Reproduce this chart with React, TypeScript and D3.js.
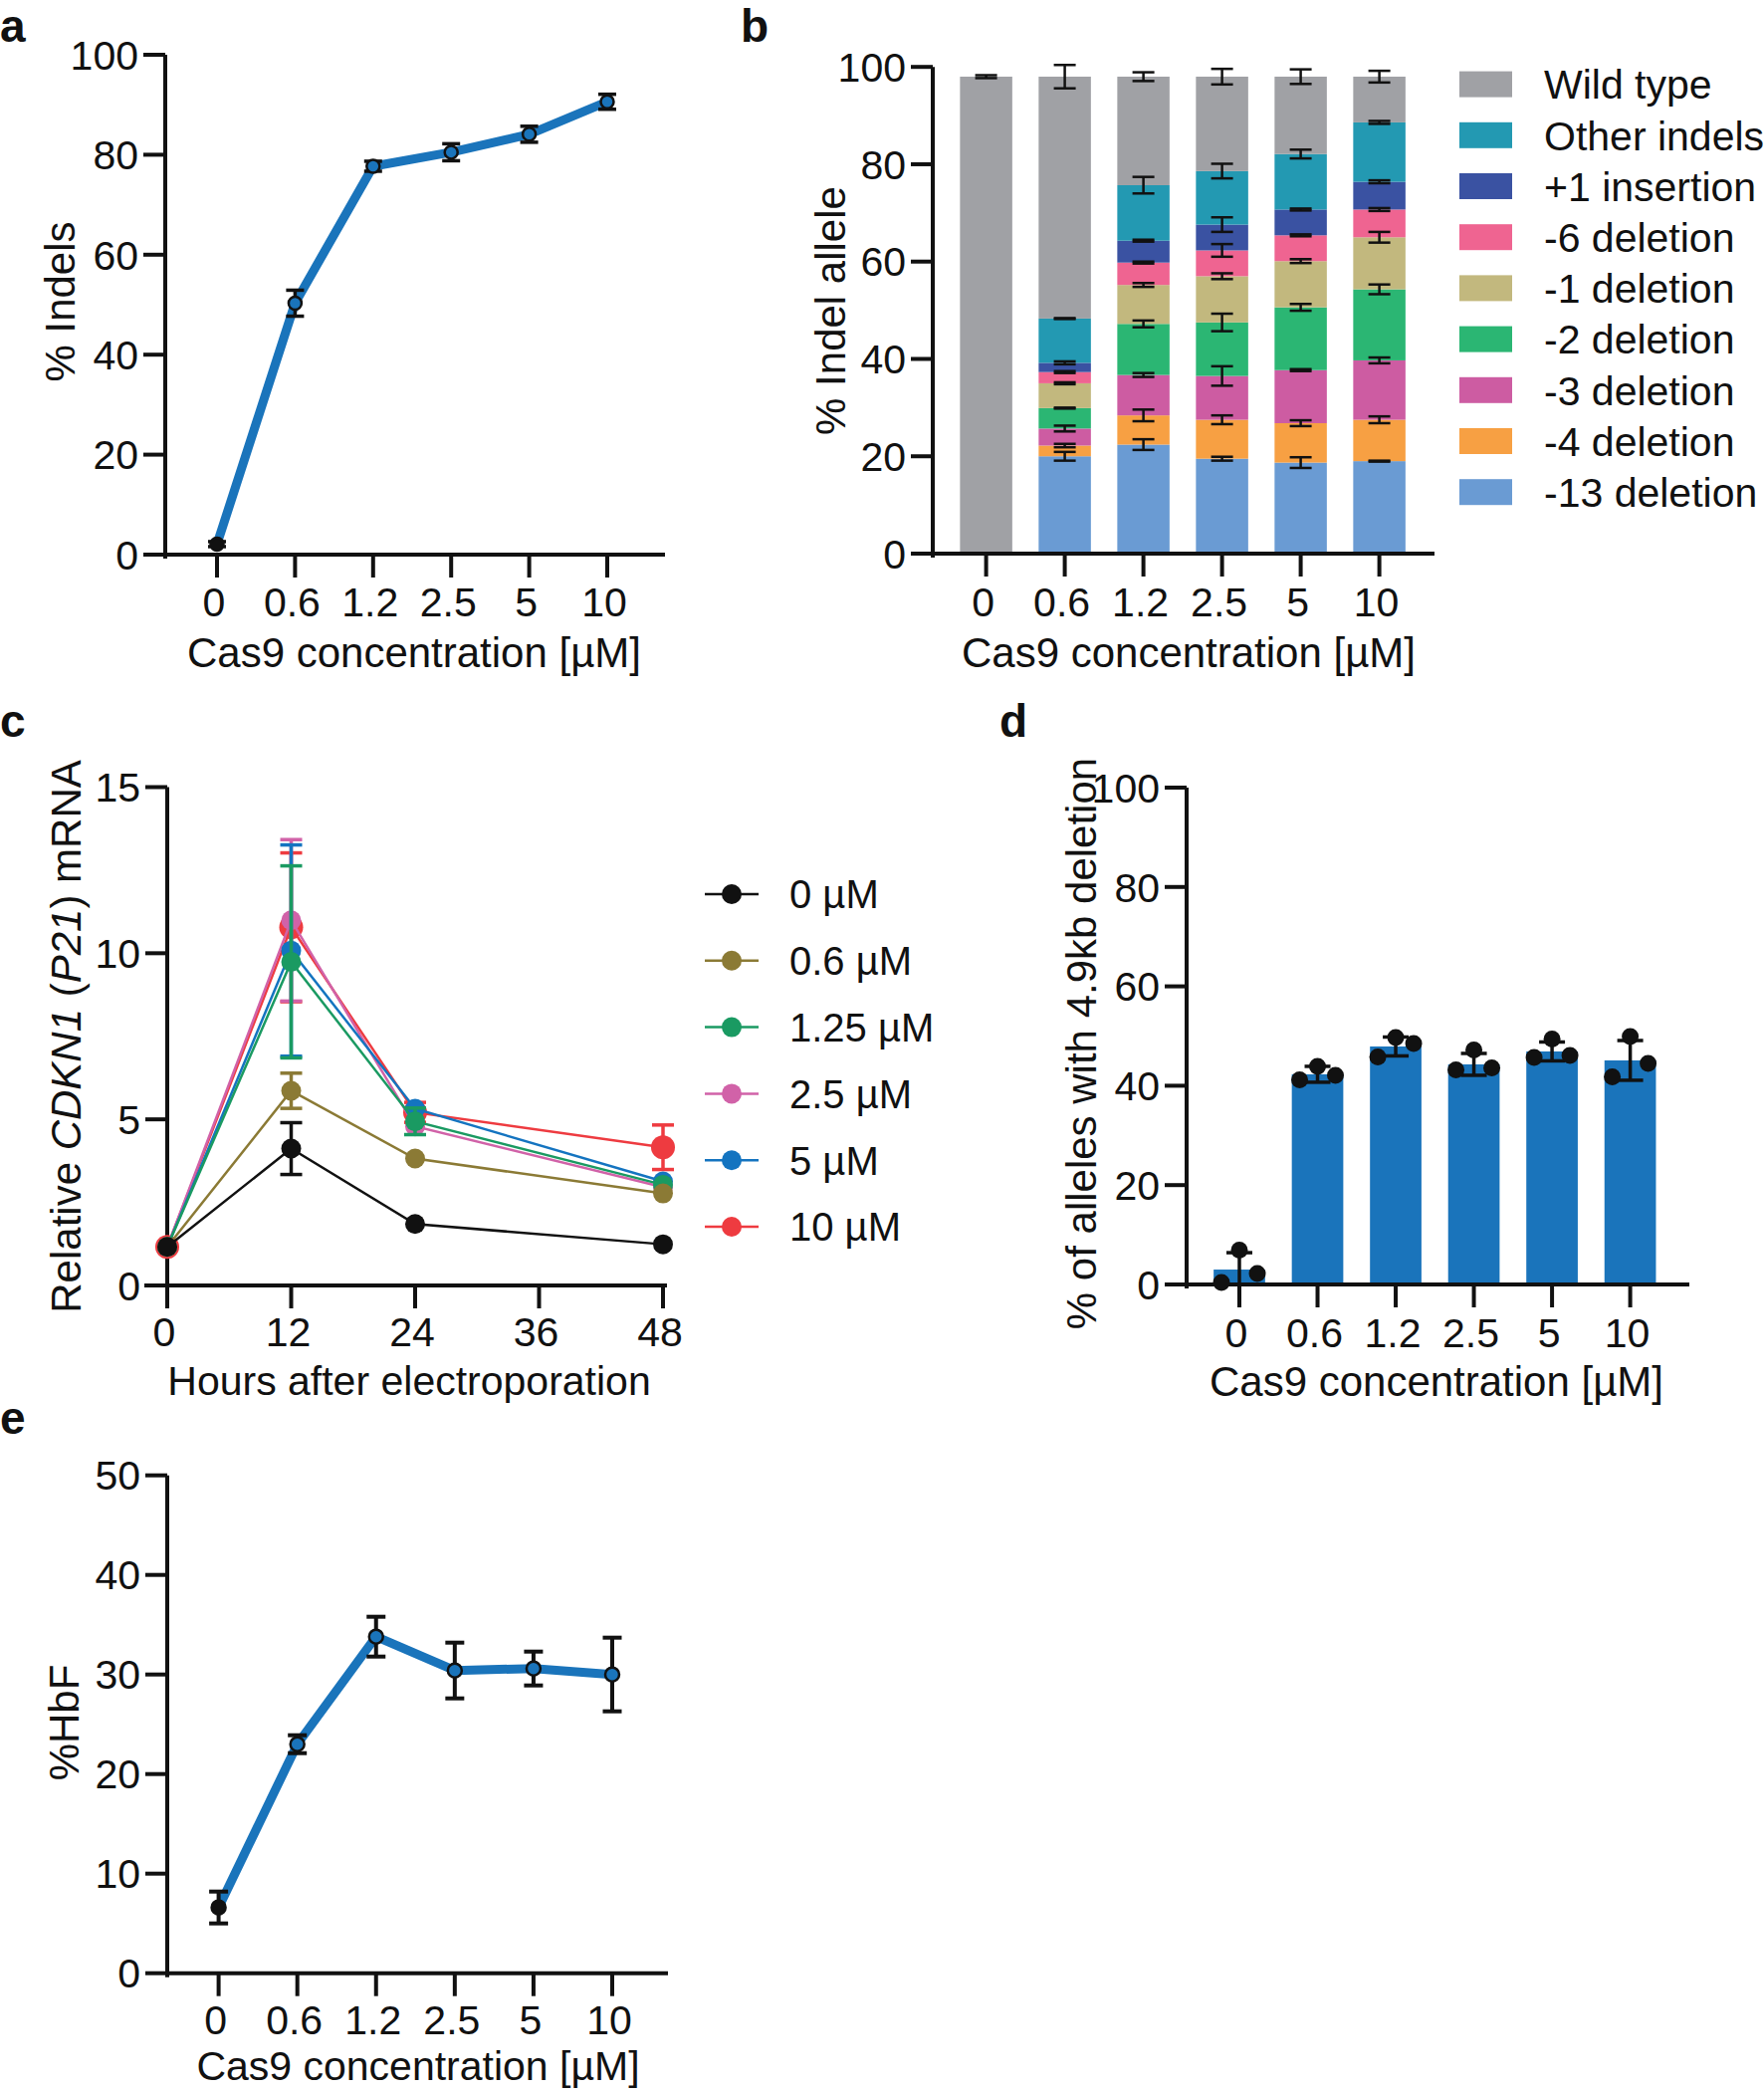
import React from "react";
import * as d3 from "d3";

const FONT = "Liberation Sans, Arial, Helvetica, sans-serif";
const BLUE = "#1a74bb";

// ---------- Panel a ----------
const cas9Cats = ["0", "0.6", "1.2", "2.5", "5", "10"];
const indelMean = [2.1, 50.3, 77.7, 80.5, 84.1, 90.6];
const indelErr = [0.5, 2.6, 1.0, 1.7, 1.6, 1.5];
const ticks100 = [0, 20, 40, 60, 80, 100];

// ---------- Panel b ----------
const alleleKeys = ["-13 deletion", "-4 deletion", "-3 deletion", "-2 deletion", "-1 deletion", "-6 deletion", "+1 insertion", "Other indels", "Wild type"];
const alleleColors = ["#6a9bd3", "#f7a043", "#cd5ca2", "#2bb673", "#c2b87e", "#ef6491", "#3a52a2", "#2399b2", "#a0a1a5"];
const del13 = [0, 20.0, 22.4, 19.5, 18.7, 19.0];
const del4 = [0, 2.2, 6.0, 8.0, 8.1, 8.5];
const del3 = [0, 3.5, 8.3, 9.0, 10.9, 12.2];
const del2 = [0, 4.2, 10.5, 11.0, 12.9, 14.6];
const del1 = [0, 5.1, 8.0, 9.5, 9.5, 10.7];
const del6 = [0, 2.3, 4.6, 5.3, 5.3, 5.7];
const ins1 = [0, 1.9, 4.5, 5.3, 5.3, 5.7];
const otherIndels = [0, 9.1, 11.4, 11.0, 11.4, 12.2];
const wildType = [98.0, 49.7, 22.3, 19.4, 15.9, 9.4];
const del13Err = [0, 0.9, 1.1, 0.4, 1.1, 0.1];
const del4Err = [0, 0.35, 1.2, 0.9, 0.6, 0.7];
const del3Err = [0, 0.6, 0.4, 2.0, 0.2, 0.6];
const del2Err = [0, 0.1, 0.7, 1.8, 0.7, 1.0];
const del1Err = [0, 0.2, 0.4, 0.6, 0.4, 1.1];
const del6Err = [0, 0.2, 0.2, 1.3, 0.2, 0.3];
const ins1Err = [0, 0.3, 0.2, 1.5, 0.2, 0.3];
const otherErr = [0, 0.1, 1.7, 1.5, 0.9, 0.3];
const wtErr = [0.3, 2.4, 0.9, 1.6, 1.5, 1.2];

// ---------- Panel c ----------
const hours = [0, 12, 24, 48];
const hourTicks = [0, 12, 24, 36, 48];
const p21Labels = ["0 µM", "0.6 µM", "1.25 µM", "2.5 µM", "5 µM", "10 µM"];
const p21Colors = ["#111111", "#8b7a35", "#1a9a62", "#d162a8", "#1474c0", "#ee3b40"];
const p21_0 = [1.16, 4.12, 1.85, 1.24];
const p21_06 = [1.16, 5.86, 3.82, 2.77];
const p21_125 = [1.16, 9.74, 4.94, 3.03];
const p21_25 = [1.16, 10.99, 4.79, 2.96];
const p21_5 = [1.16, 10.08, 5.32, 3.13];
const p21_10 = [1.16, 10.78, 5.21, 4.16];
const p21_0Err = [0, 0.78, 0, 0];
const p21_06Err = [0, 0.53, 0, 0];
const p21_125Err = [0, 2.89, 0.4, 0];
const p21_25Err = [0, 2.43, 0, 0];
const p21_5Err = [0, 3.18, 0, 0];
const p21_10Err = [0, 2.24, 0.3, 0.67];
const p21Ticks = [0, 5, 10, 15];

// ---------- Panel d ----------
const delMean = [3.0, 42.3, 47.9, 44.3, 46.9, 45.1];
const delErr = [3.4, 1.6, 1.9, 2.2, 1.9, 4.0];
const delRep1 = [0.4, 41.2, 45.8, 43.2, 45.7, 41.8];
const delRep2 = [6.9, 43.9, 49.7, 47.2, 49.4, 49.9];
const delRep3 = [2.2, 42.1, 48.5, 43.6, 46.1, 44.5];

// ---------- Panel e ----------
const hbfMean = [6.6, 23.0, 33.8, 30.4, 30.6, 30.0];
const hbfErr = [1.6, 0.9, 2.0, 2.8, 1.7, 3.7];
const hbfTicks = [0, 10, 20, 30, 40, 50];

const TF = { fontFamily: FONT, fill: "#111" } as const;
const TICK_FS = 41;
const TITLE_FS = 42;
const PANEL_FS = 46;

function LeftAxis({ scale, x, ticks, bottomExt = 4, fontSize = TICK_FS, tickLen = 22 }: any) {
  const [r0, r1] = scale.range();
  return (
    <g>
      <line x1={x} x2={x} y1={r1} y2={r0 + bottomExt} stroke="#111" strokeWidth={4} />
      {ticks.map((t: number) => (
        <g key={t}>
          <line x1={x - tickLen} x2={x} y1={scale(t)} y2={scale(t)} stroke="#111" strokeWidth={4} />
          <text x={x - tickLen - 5} y={scale(t)} dy="0.36em" textAnchor="end" fontSize={fontSize} style={TF}>{t}</text>
        </g>
      ))}
    </g>
  );
}

function BottomAxis({ xs, labels, y, x1, x2, labelY, fontSize = TICK_FS, tickLen = 23 }: any) {
  return (
    <g>
      <line x1={x1} x2={x2} y1={y} y2={y} stroke="#111" strokeWidth={4} />
      {xs.map((xv: number, i: number) => (
        <g key={i}>
          <line x1={xv} x2={xv} y1={y} y2={y + tickLen} stroke="#111" strokeWidth={4} />
          <text x={xv - 3} y={labelY} textAnchor="middle" fontSize={fontSize} style={TF}>{labels[i]}</text>
        </g>
      ))}
    </g>
  );
}

function ErrBar({ x, yHi, yLo, cap = 18, color = "#111", w = 3.5 }: any) {
  return (
    <g stroke={color} strokeWidth={w}>
      <line x1={x} x2={x} y1={yHi} y2={yLo} />
      <line x1={x - cap / 2} x2={x + cap / 2} y1={yHi} y2={yHi} />
      <line x1={x - cap / 2} x2={x + cap / 2} y1={yLo} y2={yLo} />
    </g>
  );
}

function PanelA() {
  const x = d3.scalePoint<string>().domain(cas9Cats).range([218, 610]);
  const y = d3.scaleLinear().domain([0, 100]).range([557, 55]);
  const line = d3.line<number>().x((_, i) => x(cas9Cats[i])!).y((d) => y(d));
  return (
    <g>
      <text x={0} y={42} fontSize={PANEL_FS} fontWeight="bold" style={TF}>a</text>
      <LeftAxis scale={y} x={166} ticks={ticks100} />
      <BottomAxis xs={cas9Cats.map((c) => x(c))} labels={cas9Cats} y={557} x1={166} x2={668} labelY={619} />
      <text x={416} y={670} textAnchor="middle" fontSize={TITLE_FS} style={TF}>Cas9 concentration [µM]</text>
      <text transform="translate(60,303) rotate(-90)" dy="0.36em" textAnchor="middle" fontSize={TITLE_FS} style={TF}>% Indels</text>
      <path d={line(indelMean)!} fill="none" stroke={BLUE} strokeWidth={9} strokeLinejoin="round" />
      {indelMean.map((m, i) => (
        <g key={i}>
          <ErrBar x={x(cas9Cats[i])} yHi={y(m + indelErr[i])} yLo={y(m - indelErr[i])} cap={18} />
          <circle cx={x(cas9Cats[i])} cy={y(m)} r={6.5} fill={i === 0 ? "#111" : BLUE} stroke="#111" strokeWidth={2.5} />
        </g>
      ))}
    </g>
  );
}

function PanelB() {
  const x = d3.scalePoint<string>().domain(cas9Cats).range([990.6, 1385.6]);
  const bw = 52.5;
  const y = d3.scaleLinear().domain([0, 100]).range([556, 67.2]);
  const seriesVals = [del13, del4, del3, del2, del1, del6, ins1, otherIndels, wildType];
  const seriesErr = [del13Err, del4Err, del3Err, del2Err, del1Err, del6Err, ins1Err, otherErr, wtErr];
  const rows = cas9Cats.map((c, i) => {
    const r: any = { cat: c };
    alleleKeys.forEach((k, j) => (r[k] = seriesVals[j][i]));
    return r;
  });
  const stacked = d3.stack().keys(alleleKeys)(rows);
  const legendOrder = alleleKeys.map((k, j) => j).reverse();
  return (
    <g>
      <text x={744} y={42} fontSize={PANEL_FS} fontWeight="bold" style={TF}>b</text>
      {stacked.map((s, j) => (
        <g key={j} fill={alleleColors[j]}>
          {s.map((d, i) =>
            d[1] - d[0] > 0 ? (
              <rect key={i} x={x(cas9Cats[i])! - bw / 2} width={bw} y={y(d[1])} height={y(d[0]) - y(d[1])} />
            ) : null
          )}
        </g>
      ))}
      {stacked.map((s, j) =>
        s.map((d, i) =>
          d[1] - d[0] > 0 ? (
            <ErrBar key={j + "-" + i} x={x(cas9Cats[i])} yHi={y(d[1] + seriesErr[j][i])} yLo={y(d[1] - seriesErr[j][i])} cap={22} w={2.5} />
          ) : null
        )
      )}
      <LeftAxis scale={y} x={937} ticks={ticks100} />
      <BottomAxis xs={cas9Cats.map((c) => x(c))} labels={cas9Cats} y={556} x1={915} x2={1441} labelY={619} />
      <text x={1194} y={670} textAnchor="middle" fontSize={TITLE_FS} style={TF}>Cas9 concentration [µM]</text>
      <text transform="translate(834,312) rotate(-90)" dy="0.36em" textAnchor="middle" fontSize={TITLE_FS} style={TF}>% Indel allele</text>
      {legendOrder.map((j, r) => (
        <g key={j} transform={`translate(1466,${84.6 + r * 51.2})`}>
          <rect x={0} y={-13} width={53} height={26} fill={alleleColors[j]} />
          <text x={85} y={0} dy="0.36em" fontSize={41} style={TF}>{alleleKeys[j]}</text>
        </g>
      ))}
    </g>
  );
}

function PanelC() {
  const x = d3.scaleLinear().domain([0, 48]).range([168, 666]);
  const y = d3.scaleLinear().domain([0, 15]).range([1291, 790.5]);
  const series = [p21_0, p21_06, p21_125, p21_25, p21_5, p21_10];
  const errs = [p21_0Err, p21_06Err, p21_125Err, p21_25Err, p21_5Err, p21_10Err];
  const order = [5, 3, 4, 2, 1, 0];
  const line = d3.line<number>().x((_, i) => x(hours[i])).y((d) => y(d));
  return (
    <g>
      <text x={0} y={740} fontSize={PANEL_FS} fontWeight="bold" style={TF}>c</text>
      <LeftAxis scale={y} x={168} ticks={p21Ticks} />
      <BottomAxis xs={hourTicks.map((h) => x(h))} labels={hourTicks} y={1291} x1={145} x2={670} labelY={1352} />
      <text x={411} y={1401} textAnchor="middle" fontSize={41} style={TF}>Hours after electroporation</text>
      <text transform="translate(66,1041) rotate(-90)" dy="0.36em" textAnchor="middle" fontSize={TITLE_FS} style={TF}>
        Relative <tspan fontStyle="italic">CDKN1</tspan> (<tspan fontStyle="italic">P21</tspan>) mRNA
      </text>
      {order.map((k) => (
        <g key={k}>
          <path d={line(series[k])!} fill="none" stroke={p21Colors[k]} strokeWidth={2.5} />
          {series[k].map((v, i) =>
            errs[k][i] > 0 ? (
              <ErrBar key={i} x={x(hours[i])} yHi={y(v + errs[k][i])} yLo={y(v - errs[k][i])} cap={22} color={p21Colors[k]} w={3.5} />
            ) : null
          )}
          {series[k].map((v, i) => (
            <circle key={i} cx={x(hours[i])} cy={y(v)} r={k === 5 ? 12 : 10} fill={p21Colors[k]} />
          ))}
        </g>
      ))}
      {p21Labels.map((lab, k) => (
        <g key={k} transform={`translate(708,${898 + k * 66.8})`}>
          <line x1={0} x2={54} y1={0} y2={0} stroke={p21Colors[k]} strokeWidth={2.5} />
          <circle cx={27} cy={0} r={10} fill={p21Colors[k]} />
          <text x={85} y={0} dy="0.36em" fontSize={40} style={TF}>{lab}</text>
        </g>
      ))}
    </g>
  );
}

function PanelD() {
  const x = d3.scalePoint<string>().domain(cas9Cats).range([1245, 1637.6]);
  const bw = 51.7;
  const y = d3.scaleLinear().domain([0, 100]).range([1290, 791]);
  const reps = [delRep1, delRep2, delRep3];
  const offs = [-18, 0, 18];
  return (
    <g>
      <text x={1004} y={740} fontSize={PANEL_FS} fontWeight="bold" style={TF}>d</text>
      {delMean.map((m, i) => (
        <rect key={i} x={x(cas9Cats[i])! - bw / 2} width={bw} y={y(m)} height={y(0) - y(m)} fill={BLUE} />
      ))}
      {delMean.map((m, i) => (
        <ErrBar key={i} x={x(cas9Cats[i])} yHi={y(m + delErr[i])} yLo={y(Math.max(0, m - delErr[i]))} cap={26} w={3.5} />
      ))}
      {reps.map((rep, r) =>
        rep.map((v, i) => <circle key={r + "-" + i} cx={x(cas9Cats[i])! + offs[r]} cy={y(v)} r={8.5} fill="#111" />)
      )}
      <LeftAxis scale={y} x={1192} ticks={ticks100} />
      <BottomAxis xs={cas9Cats.map((c) => x(c))} labels={cas9Cats} y={1290} x1={1170} x2={1697} labelY={1353} />
      <text x={1443} y={1402} textAnchor="middle" fontSize={TITLE_FS} style={TF}>Cas9 concentration [µM]</text>
      <text transform="translate(1086,1048) rotate(-90)" dy="0.36em" textAnchor="middle" fontSize={TITLE_FS} style={TF}>% of alleles with 4.9kb deletion</text>
    </g>
  );
}

function PanelE() {
  const x = d3.scalePoint<string>().domain(cas9Cats).range([219.6, 615]);
  const y = d3.scaleLinear().domain([0, 50]).range([1981.7, 1481.7]);
  const line = d3.line<number>().x((_, i) => x(cas9Cats[i])!).y((d) => y(d));
  return (
    <g>
      <text x={0} y={1440} fontSize={PANEL_FS} fontWeight="bold" style={TF}>e</text>
      <LeftAxis scale={y} x={168} ticks={hbfTicks} />
      <BottomAxis xs={cas9Cats.map((c) => x(c))} labels={cas9Cats} y={1981.7} x1={168} x2={671} labelY={2043} />
      <text x={420} y={2089} textAnchor="middle" fontSize={41} style={TF}>Cas9 concentration [µM]</text>
      <text transform="translate(64,1730) rotate(-90)" dy="0.36em" textAnchor="middle" fontSize={TITLE_FS} style={TF}>%HbF</text>
      <path d={line(hbfMean)!} fill="none" stroke={BLUE} strokeWidth={9} strokeLinejoin="round" />
      {hbfMean.map((m, i) => (
        <g key={i}>
          <ErrBar x={x(cas9Cats[i])} yHi={y(m + hbfErr[i])} yLo={y(m - hbfErr[i])} cap={19} w={4} />
          <circle cx={x(cas9Cats[i])} cy={y(m)} r={7} fill={i === 0 ? "#111" : BLUE} stroke="#111" strokeWidth={2.5} />
        </g>
      ))}
    </g>
  );
}

export default function App() {
  return (
    <svg width={1772} height={2100} viewBox="0 0 1772 2100" style={{ position: "absolute", left: 0, top: 0, background: "#fff" }}>
      <rect x={0} y={0} width={1772} height={2100} fill="#fff" />
      <PanelA />
      <PanelB />
      <PanelC />
      <PanelD />
      <PanelE />
    </svg>
  );
}
